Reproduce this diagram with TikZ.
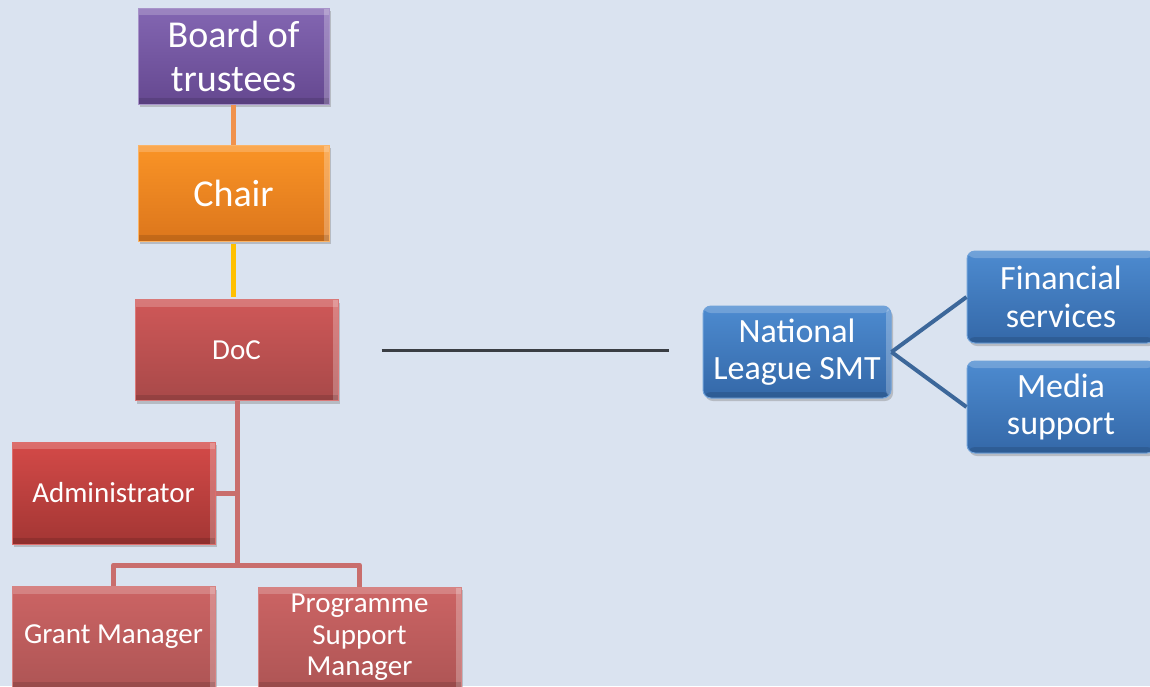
\documentclass[tikz,border=0pt]{standalone}
\usepackage{fontspec}
\setmainfont{Carlito}
\usetikzlibrary{shadows}
\definecolor{bg}{HTML}{DAE3F0}
\definecolor{purT}{HTML}{8366B2}
\definecolor{purB}{HTML}{654890}
\definecolor{orT}{HTML}{FA9426}
\definecolor{orB}{HTML}{DC761C}
\definecolor{docT}{HTML}{CF5858}
\definecolor{docB}{HTML}{A84949}
\definecolor{admT}{HTML}{D44A48}
\definecolor{admB}{HTML}{A33634}
\definecolor{gmT}{HTML}{CC6464}
\definecolor{gmB}{HTML}{AE5555}
\definecolor{blT}{HTML}{4D8BD0}
\definecolor{blB}{HTML}{3468A8}
\definecolor{lnOr}{HTML}{F0924C}
\definecolor{lnYe}{HTML}{FFC000}
\definecolor{lnRd}{HTML}{C96E6D}
\definecolor{lnDk}{HTML}{3A3E44}
\definecolor{lnBl}{HTML}{3C679A}
\tikzset{
  box/.style={rectangle, inner sep=0pt, text=white, align=center, line width=1pt,
    drop shadow={shadow xshift=2pt, shadow yshift=-3pt, opacity=0.4},
    path picture={
      \fill[white,opacity=0.2] (path picture bounding box.north west) rectangle ([yshift=-7pt]path picture bounding box.north east);
      \fill[white,opacity=0.25] ([xshift=-5pt]path picture bounding box.north east) rectangle (path picture bounding box.south east);
      \fill[black,opacity=0.12] (path picture bounding box.south west) rectangle ([yshift=6pt]path picture bounding box.south east);
    }},
  big/.style={font=\fontsize{38}{44}\selectfont},
  mid/.style={font=\fontsize{34}{37.5}\selectfont},
  small/.style={font=\fontsize{29}{31.5}\selectfont},
  conn/.style={line width=5pt},
}
\begin{document}
\begin{tikzpicture}[x=1pt,y=-1pt]
\fill[bg] (0,0) rectangle (1150,686);
\useasboundingbox (0,0) rectangle (1150,686);

\node[box, big, minimum width=191pt, minimum height=96pt, top color=purT, bottom color=purB, draw=purT!70!white] (board) at (233.5,56) {Board of\\trustees};
\node[box, big, minimum width=191pt, minimum height=96pt, top color=orT, bottom color=orB, draw=orT!70!white] (chair) at (233.5,193) {Chair};
\node[box, small, minimum width=203pt, minimum height=101pt, top color=docT, bottom color=docB, draw=docT!80!white] (doc) at (236.5,350) {DoC};
\node[box, small, minimum width=203pt, minimum height=102pt, top color=admT, bottom color=admB, draw=admT!80!white] (adm) at (113.5,493) {Administrator};
\node[box, small, minimum width=203pt, minimum height=101pt, top color=gmT, bottom color=gmB, draw=gmT!80!white] (grant) at (113.5,637) {Grant Manager};
\node[box, small, minimum width=203pt, minimum height=101pt, top color=gmT, bottom color=gmB, draw=gmT!80!white] (prog) at (359.5,637.5) {Programme\\Support\\Manager};
\node[box, mid, minimum width=188pt, minimum height=92pt, rounded corners=8pt, top color=blT, bottom color=blB, draw=blT!80!white] (nl) at (797,352) {National\\League SMT};
\node[box, mid, minimum width=188pt, minimum height=92pt, rounded corners=8pt, top color=blT, bottom color=blB, draw=blT!80!white] (fin) at (1061,297) {Financial\\services};
\node[box, mid, minimum width=188pt, minimum height=92pt, rounded corners=8pt, top color=blT, bottom color=blB, draw=blT!80!white] (med) at (1061,407) {Media\\support};

\coordinate (j) at (237,565);
\draw[conn, lnOr] (board.south) -- (chair.north);
\draw[conn, lnYe] ([yshift=-2pt]chair.south) -- ([yshift=2pt]chair.south |- doc.north);
\draw[conn, lnRd] (doc.south -| j) -- (j);
\draw[conn, lnRd] (adm.east) -- (adm.east -| j);
\draw[conn, lnRd, line join=round] (grant.north) |- (j) -| (prog.north);
\draw[line width=3pt, lnDk] ([xshift=43pt]doc.east) -- ([xshift=-34pt]nl.west |- doc.east);
\draw[line width=4pt, lnBl] (nl.east) -- (fin.west);
\draw[line width=4pt, lnBl] (nl.east) -- (med.west);
\end{tikzpicture}
\end{document}
